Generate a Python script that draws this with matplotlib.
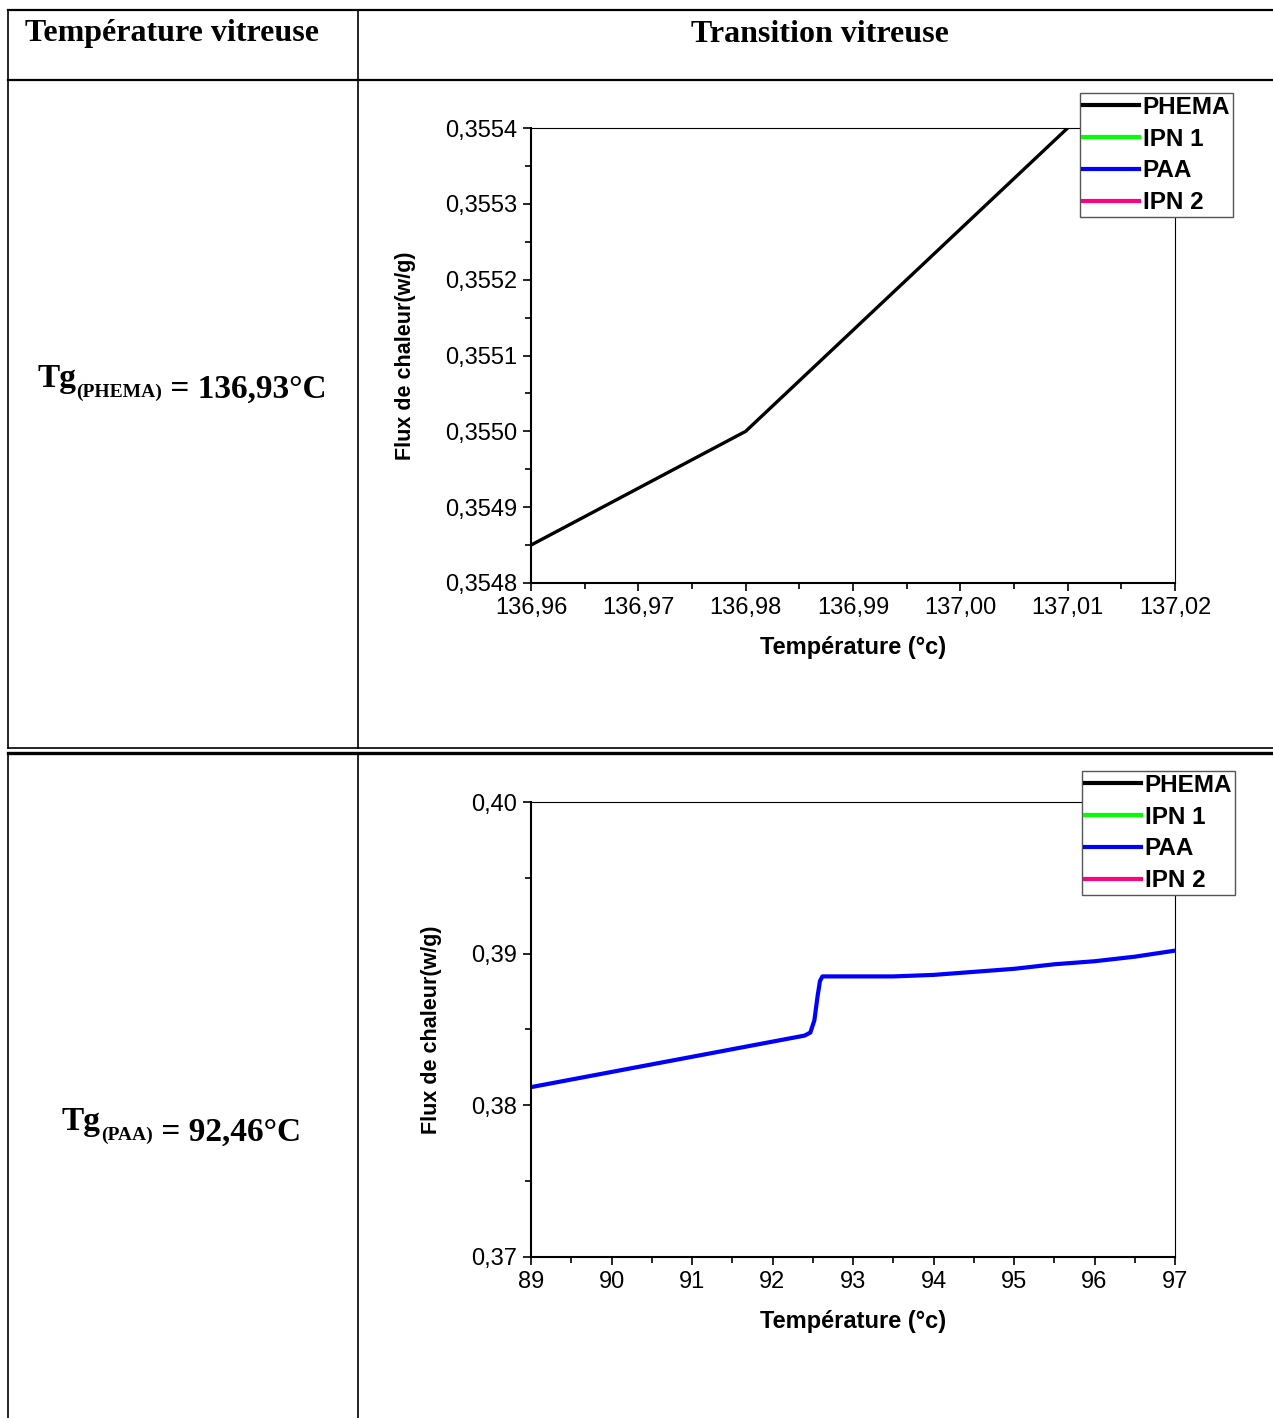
import numpy as np
import matplotlib.pyplot as plt
from matplotlib.lines import Line2D
from matplotlib.ticker import MultipleLocator, AutoMinorLocator, FuncFormatter

# ---- data ----
phema_t = [136.96, 136.98, 137.01, 137.02]
phema_f = [0.35485, 0.35500, 0.35540, 0.35553]

paa_t = [89.0, 90.0, 91.0, 92.0, 92.40, 92.47, 92.52, 92.56, 92.59, 92.62,
         93.0, 93.5, 94.0, 94.5, 95.0, 95.5, 96.0, 96.5, 97.0]
paa_f = [0.3812, 0.3822, 0.3832, 0.3842, 0.3846, 0.3848, 0.3856, 0.3872, 0.3882, 0.3885,
         0.3885, 0.3885, 0.3886, 0.3888, 0.3890, 0.3893, 0.3895, 0.3898, 0.3902]

ipn1_t, ipn1_f = [], []
ipn2_t, ipn2_f = [], []

names = ['PHEMA', 'IPN 1', 'PAA', 'IPN 2']
colors = ['#000000', '#00FF00', '#0000FF', '#FF0080']

W, H = 1273, 1418
fig = plt.figure(figsize=(W/100, H/100), dpi=100)

# table frame in pixel coords
tab = fig.add_axes([0, 0, 1, 1])
tab.set_xlim(0, W)
tab.set_ylim(H, 0)
tab.axis('off')
tab.plot([8, W], [10, 10], 'k', lw=1.6)
tab.plot([8, W], [80, 80], 'k', lw=1.6)
tab.plot([8, W], [748, 748], 'k', lw=1.2)
tab.plot([8, W], [753, 753], 'k', lw=2.4)
for x in [8, 358]:
    tab.plot([x, x], [10, 748], 'k', lw=1.2)
    tab.plot([x, x], [753, H], 'k', lw=1.2)

serif = 'Liberation Serif'
tab.text(172, 34, 'Température vitreuse', family=serif, weight='bold', fontsize=23,
         ha='center', va='center')
tab.text(820, 34, 'Transition vitreuse', family=serif, weight='bold', fontsize=23,
         ha='center', va='center')


def tg_label(x, y, sub, value):
    t1 = tab.text(x, y, 'Tg', family=serif, weight='bold', fontsize=24,
                  ha='left', va='baseline')
    t2 = tab.annotate(sub, xy=(1, 0), xycoords=t1, xytext=(0, -2), textcoords='offset points',
                      family=serif, weight='bold', fontsize=14, ha='left', va='baseline')
    tab.annotate(' = ' + value, xy=(1, 0), xycoords=t2, xytext=(0, 2), textcoords='offset points',
                 family=serif, weight='bold', fontsize=24, ha='left', va='baseline')


tg_label(37, 387, '(PHEMA)', '136,93°C')
tg_label(62, 1130, '(PAA)', '92,46°C')

plt.rcParams['font.family'] = 'Liberation Sans'


def make_axes(top, bottom):
    ax = fig.add_axes([531/W, 1 - bottom/H, (1175-531)/W, (bottom-top)/H])
    for s in ['left', 'bottom']:
        ax.spines[s].set_linewidth(1.5)
    for s in ['top', 'right']:
        ax.spines[s].set_linewidth(0.8)
    ax.tick_params(which='major', direction='out', length=6, width=1.2, labelsize=17,
                   top=False, right=False, pad=4)
    ax.tick_params(which='minor', direction='out', length=4, width=1.2, top=False, right=False)
    ax.xaxis.set_minor_locator(AutoMinorLocator(2))
    ax.yaxis.set_minor_locator(AutoMinorLocator(2))
    ax.set_xlabel('Température (°c)', fontsize=17, weight='bold', labelpad=12)
    ax.set_ylabel('Flux de chaleur(w/g)', fontsize=15.5, weight='bold', labelpad=21)
    return ax


def comma(fmt):
    return FuncFormatter(lambda v, p: format(v, fmt).replace('.', ','))


def add_lines(ax):
    ax.plot(phema_t, phema_f, color=colors[0], lw=2.4)
    ax.plot(ipn1_t, ipn1_f, color=colors[1], lw=2.4)
    ax.plot(paa_t, paa_f, color=colors[2], lw=3)
    ax.plot(ipn2_t, ipn2_f, color=colors[3], lw=2.4)


def add_legend(ax, right, top):
    handles = [Line2D([], [], color=c, lw=3) for c in colors]
    ax.legend(handles, names, loc='upper right', bbox_to_anchor=(right/W, 1 - top/H),
              bbox_transform=fig.transFigure, fancybox=False, framealpha=1,
              edgecolor='#555555', prop={'weight': 'bold', 'size': 17.5},
              handlelength=2.3, handletextpad=0.15, labelspacing=0.36,
              borderpad=0.12, borderaxespad=0).get_frame().set_linewidth(1.0)


# top chart: PHEMA
ax1 = make_axes(128, 583)
add_lines(ax1)
ax1.set_xlim(136.96, 137.02)
ax1.set_ylim(0.3548, 0.3554)
ax1.xaxis.set_major_locator(MultipleLocator(0.01))
ax1.yaxis.set_major_locator(MultipleLocator(0.0001))
ax1.xaxis.set_major_formatter(comma('.2f'))
ax1.yaxis.set_major_formatter(comma('.4f'))
add_legend(ax1, 1233, 93)

# bottom chart: PAA
ax2 = make_axes(802, 1257)
add_lines(ax2)
ax2.set_xlim(89, 97)
ax2.set_ylim(0.37, 0.40)
ax2.xaxis.set_major_locator(MultipleLocator(1))
ax2.yaxis.set_major_locator(MultipleLocator(0.01))
ax2.xaxis.set_major_formatter(comma('.0f'))
ax2.yaxis.set_major_formatter(comma('.2f'))
add_legend(ax2, 1235, 771)

fig.savefig('out.png', dpi=100)
